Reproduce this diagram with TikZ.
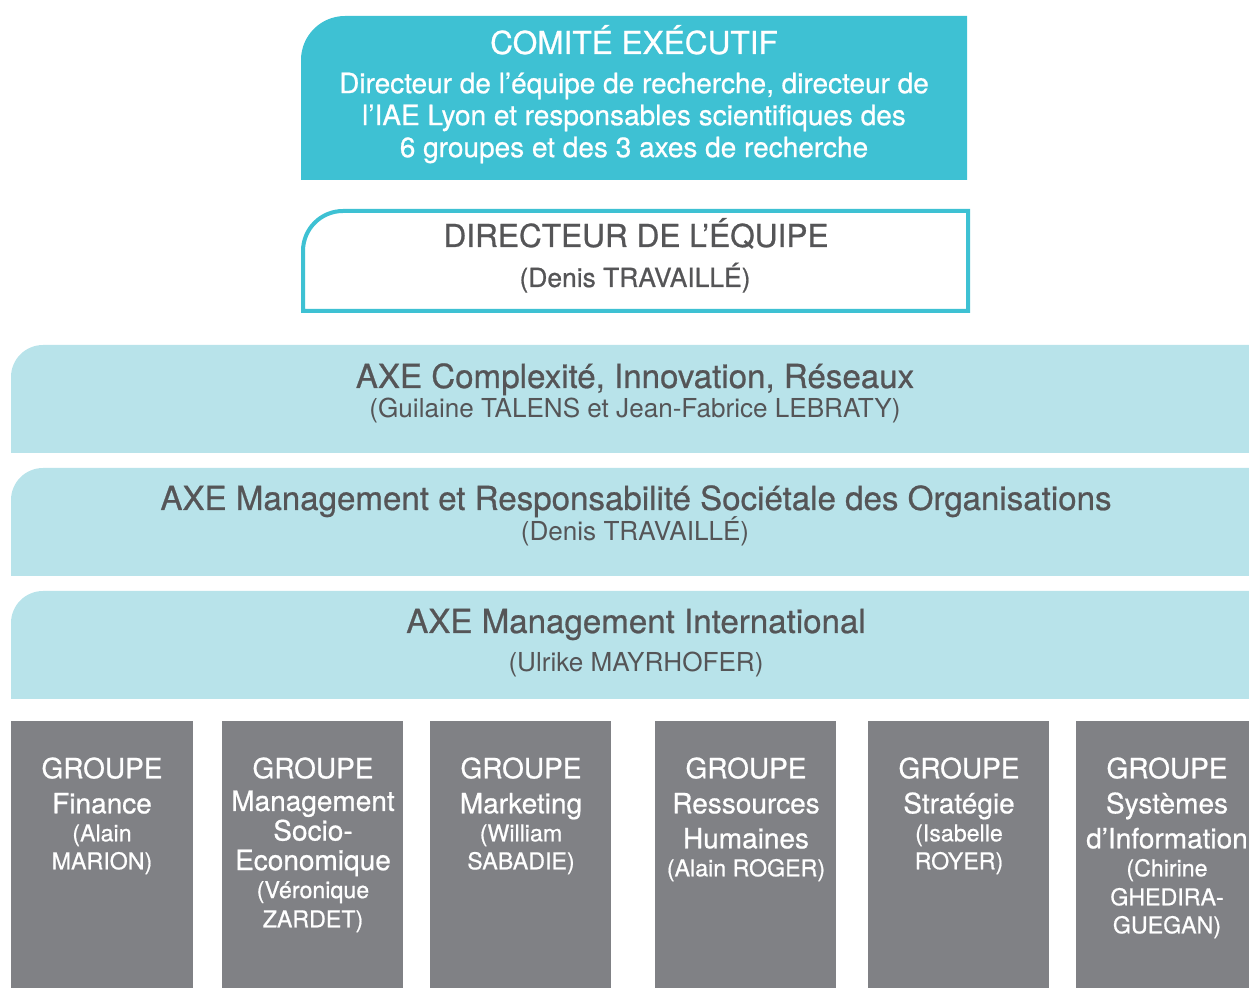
\documentclass[tikz,border=0pt]{standalone}
\usepackage{fontspec}
\setmainfont{TeX Gyre Heros}
\newfontfamily\medfont{TeX Gyre Heros}[FakeBold=0.7]
\usetikzlibrary{positioning}
\definecolor{comitecyan}{HTML}{3EC1D3}
\definecolor{axeblue}{HTML}{B8E3EA}
\definecolor{groupgray}{HTML}{808185}
\definecolor{textgray}{HTML}{555557}
% box with only the top left corner rounded: style, x1, y1, x2, y2, radius
\newcommand{\tlbox}[6]{%
  \path[#1] (#2,#5) -- (#2,#3+#6)
    .. controls (#2,#3+0.448*#6) and (#2+0.448*#6,#3) .. (#2+#6,#3)
    -- (#4,#3) -- (#4,#5) -- cycle;}
\newcommand{\namefont}{\fontsize{11.6}{14}\selectfont}
\tikzset{
  bigtitle/.style={font=\medfont\fontsize{15.8}{18}\selectfont, inner sep=0pt, anchor=base},
  smalltext/.style={font=\medfont\fontsize{14}{16}\selectfont, inner sep=0pt, align=center},
  axetitle/.style={text=textgray, font=\medfont\fontsize{16.55}{19}\selectfont, inner sep=0pt, anchor=base},
  axesub/.style={text=textgray, font=\fontsize{13.05}{15}\selectfont, inner sep=0pt, anchor=base},
  grouptext/.style={text=white, font=\medfont\fontsize{14}{17.5}\selectfont, inner sep=0pt, align=center, anchor=north},
}
\begin{document}
\begin{tikzpicture}[x=0.5pt,y=-0.5pt]
  \useasboundingbox (0,0) rectangle (1249,988);
  % comite executif and directeur
  \tlbox{fill=comitecyan}{301}{16}{967}{180}{44}
  \tlbox{draw=comitecyan,line width=2pt,fill=white}{303}{211}{968}{311}{40}
  \node[bigtitle, text=white] (comite) at (634,54) {COMITÉ EXÉCUTIF};
  \node[smalltext, text=white] (comitesub) at (634,118)
    {Directeur de l’équipe de recherche, directeur de\\
     l’IAE Lyon et responsables scientifiques des\\
     6 groupes et des 3 axes de recherche};
  \node[bigtitle, text=textgray] (directeur) at (636,247) {DIRECTEUR DE L’ÉQUIPE};
  \node[axesub, font=\medfont\fontsize{13.2}{15}\selectfont] (directeursub) at (635,287) {(Denis TRAVAILLÉ)};
  % three axes
  \tlbox{fill=axeblue}{11}{345}{1260}{453}{32}
  \tlbox{fill=axeblue}{11}{468}{1260}{576}{32}
  \tlbox{fill=axeblue}{11}{591}{1260}{699}{32}
  \node[axetitle] (axecir) at (635,388) {AXE Complexité, Innovation, Réseaux};
  \node[axesub] (axecirsub) at (635,418) {(Guilaine TALENS et Jean-Fabrice LEBRATY)};
  \node[axetitle] (axemrso) at (636,510) {AXE Management et Responsabilité Sociétale des Organisations};
  \node[axesub] (axemrsosub) at (635,541) {(Denis TRAVAILLÉ)};
  \node[axetitle] (axemi) at (636,633) {AXE Management International};
  \node[axesub] (axemisub) at (636,672) {(Ulrike MAYRHOFER)};
  % six groups
  \foreach \xa/\xb in {11/193, 222/403, 430/611, 655/836, 868/1049, 1076/1258}
    \fill[groupgray] (\xa,721) rectangle (\xb,995);
  \node[grouptext] (finance) at (102,757)
    {GROUPE\\Finance\\[-3.5pt]{\namefont(Alain}\\[-3.5pt]{\namefont MARION)}};
  \node[grouptext, font=\medfont\fontsize{14}{14.8}\selectfont] (mse) at (313,757)
    {GROUPE\\[1.5pt]Management\\Socio-\\Economique\\[-0.8pt]{\namefont(Véronique}\\[-0.2pt]{\namefont ZARDET)}};
  \node[grouptext] (marketing) at (521,757)
    {GROUPE\\Marketing\\[-3.5pt]{\namefont(William}\\[-3.5pt]{\namefont SABADIE)}};
  \node[grouptext] (rh) at (746,757)
    {GROUPE\\Ressources\\Humaines\\[-3.5pt]{\namefont(Alain ROGER)}};
  \node[grouptext] (strategie) at (959,757)
    {GROUPE\\Stratégie\\[-3.5pt]{\namefont(Isabelle}\\[-3.5pt]{\namefont ROYER)}};
  \node[grouptext] (si) at (1167,757)
    {GROUPE\\Systèmes\\d’Information\\[-3.5pt]{\namefont(Chirine}\\[-3pt]{\namefont GHEDIRA-}\\[-3.5pt]{\namefont GUEGAN)}};
\end{tikzpicture}
\end{document}
